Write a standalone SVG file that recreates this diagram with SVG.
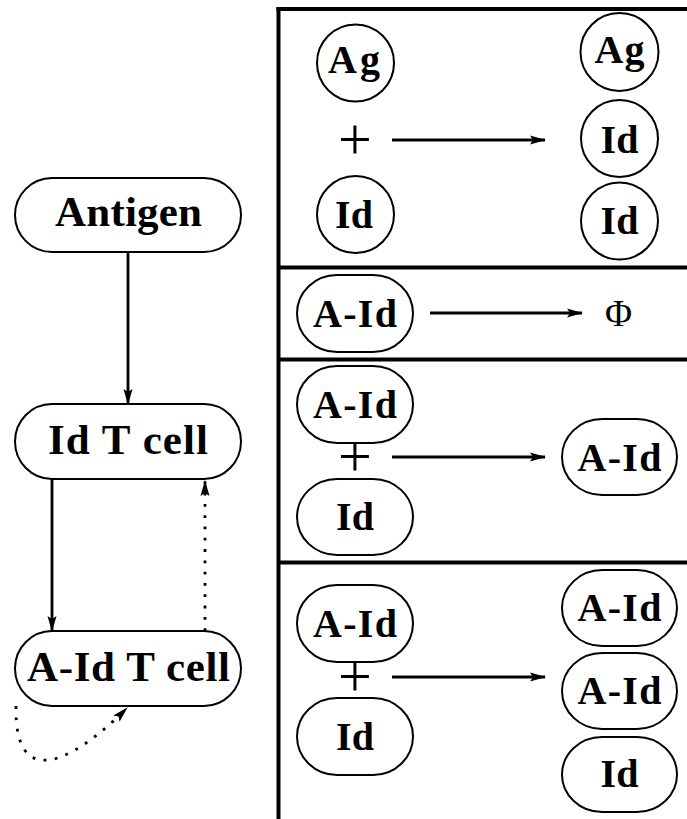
<svg xmlns="http://www.w3.org/2000/svg" width="687" height="819" viewBox="0 0 687 819">
  <style>
    .node { fill: #fff; stroke: #000; stroke-width: 2; }
    .lbl { font-family: "Liberation Serif", "Times New Roman", serif; font-weight: bold; fill: #000; text-anchor: middle; }
    .big { font-size: 43px; }
    .sm { font-size: 40px; }
    .sym { font-family: "Liberation Serif", "Times New Roman", serif; font-weight: normal; fill: #000; text-anchor: middle; }
    .plus { font-size: 60px; }
    .edge { fill: none; stroke: #000; stroke-width: 2.8; }
    .dot { fill: none; stroke: #000; stroke-width: 2.8; stroke-dasharray: 2.8 8.5; }
    .frame { fill: none; stroke: #000; stroke-width: 4; }
  </style>
  <defs>
    <marker id="arr" viewBox="0 0 16 10" refX="15" refY="5" markerWidth="16" markerHeight="10" markerUnits="userSpaceOnUse" orient="auto">
      <path d="M0,0.5 L16,5 L0,9.5 L3,5 z" fill="#000"/>
    </marker>
  </defs>

  <!-- frame of the reaction table -->
  <g id="frame">
    <line class="frame" x1="278.5" y1="7" x2="278.5" y2="819"/>
    <line class="frame" x1="276.5" y1="9" x2="687" y2="9"/>
    <line class="frame" x1="278.5" y1="267.5" x2="687" y2="267.5"/>
    <line class="frame" x1="278.5" y1="359.5" x2="687" y2="359.5"/>
    <line class="frame" x1="278.5" y1="562.5" x2="687" y2="562.5"/>
  </g>

  <!-- connectors -->
  <g id="connectors">
    <line class="edge" x1="128" y1="252" x2="128" y2="404" marker-end="url(#arr)"/>
    <line class="edge" x1="52" y1="479" x2="52" y2="631" marker-end="url(#arr)"/>
    <line class="dot" x1="205" y1="631" x2="205" y2="481" marker-end="url(#arr)"/>
    <path class="dot" d="M16,706 C14,790 70,765 127,708" marker-end="url(#arr)"/>
    <line class="edge" x1="392" y1="140" x2="545" y2="140" marker-end="url(#arr)"/>
    <line class="edge" x1="430" y1="313" x2="582" y2="313" marker-end="url(#arr)"/>
    <line class="edge" x1="392" y1="457" x2="545" y2="457" marker-end="url(#arr)"/>
    <line class="edge" x1="392" y1="677" x2="545" y2="677" marker-end="url(#arr)"/>
  </g>

  <!-- left column -->
  <g id="antigen">
    <rect class="node" x="15" y="178" width="226" height="74" rx="37" ry="37"/>
    <text class="lbl big" x="128.5" y="226" textLength="147" lengthAdjust="spacing">Antigen</text>
  </g>
  <g id="id-t-cell">
    <rect class="node" x="15" y="404" width="226" height="75" rx="37" ry="37.5"/>
    <text class="lbl big" x="128" y="454" textLength="160" lengthAdjust="spacing">Id T cell</text>
  </g>
  <g id="a-id-t-cell">
    <rect class="node" x="15" y="631" width="226" height="75" rx="37" ry="37.5"/>
    <text class="lbl big" x="128.5" y="681" textLength="203" lengthAdjust="spacing">A-Id T cell</text>
  </g>

  <!-- panel 1 -->
  <g id="p1-ag-in">
    <circle class="node" cx="355.5" cy="63" r="38.5"/>
    <text class="lbl sm" x="354" y="73" textLength="52" lengthAdjust="spacing">Ag</text>
  </g>
  <g id="p1-plus">
    <text class="sym plus" x="355" y="159">+</text>
  </g>
  <g id="p1-id-in">
    <circle class="node" cx="355.5" cy="214.5" r="38.5"/>
    <text class="lbl sm" x="354" y="228" textLength="38" lengthAdjust="spacing">Id</text>
  </g>
  <g id="p1-ag-out">
    <circle class="node" cx="619.5" cy="52" r="39"/>
    <text class="lbl sm" x="619.5" y="63" textLength="50" lengthAdjust="spacing">Ag</text>
  </g>
  <g id="p1-id-out1">
    <circle class="node" cx="619.5" cy="138.5" r="38.5"/>
    <text class="lbl sm" x="619.5" y="153" textLength="38" lengthAdjust="spacing">Id</text>
  </g>
  <g id="p1-id-out2">
    <circle class="node" cx="619.5" cy="221" r="38.5"/>
    <text class="lbl sm" x="619.5" y="234" textLength="38" lengthAdjust="spacing">Id</text>
  </g>

  <!-- panel 2 -->
  <g id="p2-aid">
    <rect class="node" x="297" y="275" width="116" height="77" rx="40" ry="38.5"/>
    <text class="lbl sm" x="355" y="327" textLength="84" lengthAdjust="spacing">A-Id</text>
  </g>
  <g id="p2-phi">
    <text class="sym" x="618.5" y="326" font-size="37">Φ</text>
  </g>

  <!-- panel 3 -->
  <g id="p3-aid-in">
    <rect class="node" x="297" y="366" width="116" height="77" rx="40" ry="38.5"/>
    <text class="lbl sm" x="355" y="418" textLength="84" lengthAdjust="spacing">A-Id</text>
  </g>
  <g id="p3-plus">
    <text class="sym plus" x="355" y="476">+</text>
  </g>
  <g id="p3-id-in">
    <rect class="node" x="297" y="479" width="116" height="76" rx="40" ry="38"/>
    <text class="lbl sm" x="355" y="530" textLength="38" lengthAdjust="spacing">Id</text>
  </g>
  <g id="p3-aid-out">
    <rect class="node" x="562" y="419" width="115" height="76" rx="40" ry="38"/>
    <text class="lbl sm" x="619.5" y="471" textLength="84" lengthAdjust="spacing">A-Id</text>
  </g>

  <!-- panel 4 -->
  <g id="p4-aid-in">
    <rect class="node" x="297" y="585" width="116" height="77" rx="40" ry="38.5"/>
    <text class="lbl sm" x="355" y="637" textLength="84" lengthAdjust="spacing">A-Id</text>
  </g>
  <g id="p4-plus">
    <text class="sym plus" x="355" y="696">+</text>
  </g>
  <g id="p4-id-in">
    <rect class="node" x="297" y="698" width="116" height="77" rx="40" ry="38.5"/>
    <text class="lbl sm" x="355" y="750" textLength="38" lengthAdjust="spacing">Id</text>
  </g>
  <g id="p4-aid-out1">
    <rect class="node" x="562" y="570" width="115" height="76" rx="40" ry="38"/>
    <text class="lbl sm" x="619.5" y="621" textLength="84" lengthAdjust="spacing">A-Id</text>
  </g>
  <g id="p4-aid-out2">
    <rect class="node" x="562" y="653" width="115" height="76" rx="40" ry="38"/>
    <text class="lbl sm" x="619.5" y="704" textLength="84" lengthAdjust="spacing">A-Id</text>
  </g>
  <g id="p4-id-out">
    <rect class="node" x="562" y="737" width="115" height="75" rx="40" ry="37.5"/>
    <text class="lbl sm" x="619.5" y="787" textLength="38" lengthAdjust="spacing">Id</text>
  </g>
</svg>
